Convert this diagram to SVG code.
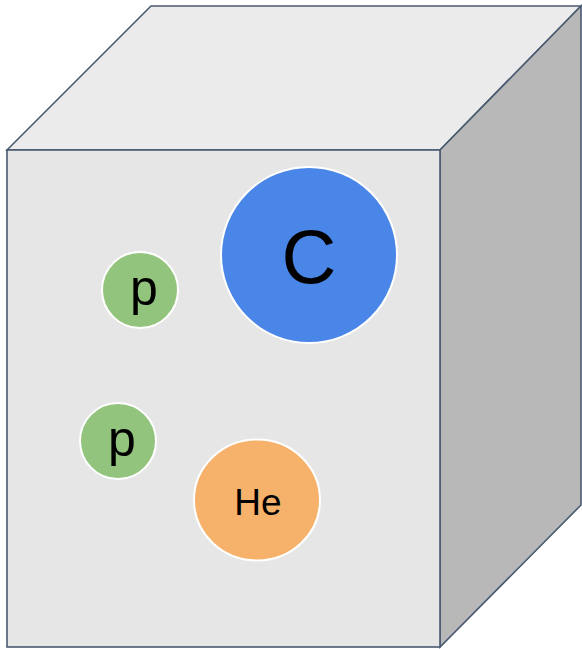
<svg xmlns="http://www.w3.org/2000/svg" width="582" height="649" viewBox="0 0 582 649">
<style>
.edge{stroke:#4a5a70;stroke-width:1.6;stroke-linejoin:miter}
.atom{stroke:#ffffff;stroke-width:2}
.lbl{font-family:"Liberation Sans",Arial,sans-serif;fill:#000;text-anchor:middle}
</style>
<g id="cube">
<polygon class="edge" points="7,150 151,6 581,6 440,150" fill="#ebebeb"/>
<polygon class="edge" points="440,150 581,6 581,505 440,647" fill="#b8b8b8"/>
<rect class="edge" x="7" y="150" width="433" height="497" fill="#e6e6e6"/>
</g>
<g id="carbon">
<circle class="atom" cx="309" cy="255" r="88" fill="#4a86e8"/>
<text class="lbl" x="309" y="283" font-size="76">C</text>
</g>
<g id="proton1">
<circle class="atom" cx="140" cy="290" r="38" fill="#93c47d"/>
<text class="lbl" x="144" y="305" font-size="50">p</text>
</g>
<g id="proton2">
<circle class="atom" cx="118" cy="441" r="38" fill="#93c47d"/>
<text class="lbl" x="122" y="456" font-size="50">p</text>
</g>
<g id="helium">
<ellipse class="atom" cx="257" cy="500" rx="63" ry="60.5" fill="#f6b26b"/>
<text class="lbl" x="258" y="515" font-size="37">He</text>
</g>
<g id="connectors"></g>
</svg>
